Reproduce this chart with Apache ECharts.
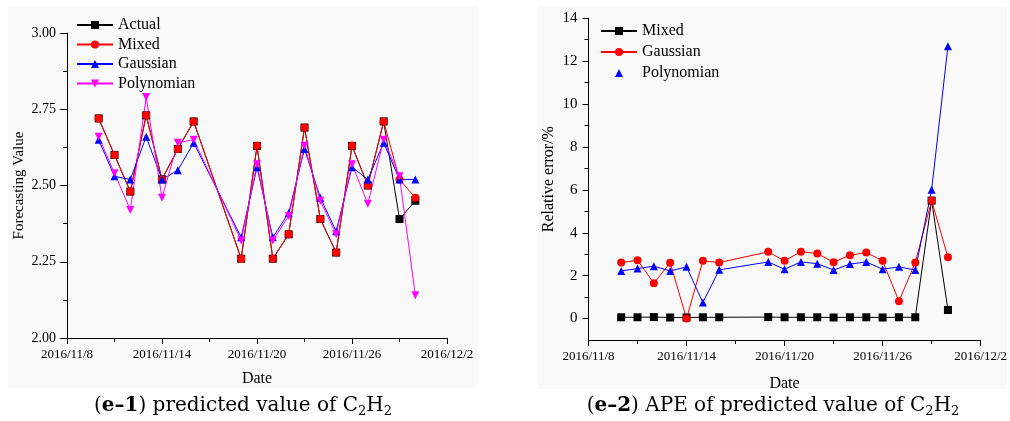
<!DOCTYPE html>
<html><head><meta charset="utf-8">
<script src="https://cdn.jsdelivr.net/npm/echarts@6/dist/echarts.min.js"></script>
<style>html,body{margin:0;padding:0;background:#fff}#c{width:1010px;height:421px}</style>
</head><body><div id="c"></div>
<script>
// ---------- data ----------
const dates = ['2016/11/10','2016/11/11','2016/11/12','2016/11/13','2016/11/14','2016/11/15','2016/11/16',
  '2016/11/19','2016/11/20','2016/11/21','2016/11/22','2016/11/23','2016/11/24','2016/11/25','2016/11/26',
  '2016/11/27','2016/11/28','2016/11/29','2016/11/30'];
const xTickDates = ['2016/11/8','2016/11/14','2016/11/20','2016/11/26','2016/12/2'];

const predActual     = [2.72,2.60,2.48,2.73,2.52,2.62,2.71,2.26,2.63,2.26,2.34,2.69,2.39,2.28,2.63,2.50,2.71,2.39,2.45];
const predMixed      = [2.72,2.60,2.48,2.73,2.52,2.62,2.71,2.26,2.63,2.26,2.34,2.69,2.39,2.28,2.63,2.50,2.71,2.52,2.46];
const predGaussian   = [2.65,2.53,2.52,2.66,2.52,2.55,2.64,2.33,2.56,2.33,2.41,2.62,2.46,2.35,2.56,2.52,2.64,2.52,2.52];
const predPolynomian = [2.66,2.54,2.42,2.79,2.46,2.64,2.65,2.32,2.57,2.32,2.40,2.63,2.45,2.34,2.57,2.44,2.65,2.53,2.14];

const apeMixed      = [0.06,0.06,0.07,0.05,0.05,0.06,0.06,0.07,0.06,0.06,0.06,0.05,0.06,0.06,0.05,0.06,0.06,5.50,0.40];
const apeGaussian   = [2.61,2.72,1.65,2.60,0.00,2.69,2.61,3.11,2.69,3.12,3.03,2.63,2.95,3.08,2.69,0.81,2.61,5.50,2.86];
const apePolynomian = [2.22,2.33,2.44,2.22,2.41,0.75,2.27,2.64,2.30,2.64,2.56,2.26,2.54,2.64,2.30,2.41,2.26,6.00,12.70];

const predYMin = 2.00, predYMax = 3.00, predYStep = 0.25;
const apeYMin = -1, apeYMax = 14;
const apeYTicks = [0,2,4,6,8,10,12,14];
const apeYMinorTicks = [1,3,5,7,9,11,13];

// ---------- helpers ----------
function dayNum(s){const p=s.split('/').map(Number);return Date.UTC(p[0],p[1]-1,p[2])/86400000;}
const d0 = dayNum(xTickDates[0]);
const xMax = dayNum(xTickDates[xTickDates.length-1]) - d0;
const xStep = dayNum(xTickDates[1]) - d0;
const xs = dates.map(s => dayNum(s) - d0);
function fmtDay(v){const d=new Date((d0+v)*86400000);return d.getUTCFullYear()+'/'+(d.getUTCMonth()+1)+'/'+d.getUTCDate();}
const pair = arr => arr.map((v,i)=>[xs[i],v]);

const FONT = 'Liberation Serif';
const BLACK = '#000';

function xAxisCfg(gi, nameGap){
  return {
    type:'value', gridIndex:gi, min:0, max:xMax, interval:xStep,
    name:'Date', nameLocation:'middle', nameGap:nameGap,
    nameTextStyle:{fontFamily:FONT, fontSize:16, color:BLACK},
    axisLine:{show:true, onZero:false, lineStyle:{color:BLACK, width:1}},
    axisTick:{show:true, length:6, lineStyle:{color:BLACK}},
    minorTick:{show:true, splitNumber:2, length:4, lineStyle:{color:BLACK}},
    splitLine:{show:false},
    axisLabel:{fontFamily:FONT, fontSize:13, color:BLACK, margin:10, formatter:v=>fmtDay(v), showMinLabel:true, showMaxLabel:true}
  };
}

function ser(name, data, color, symbol, xi, yi, rot){
  return {name, type:'line', xAxisIndex:xi, yAxisIndex:yi, data, symbol, symbolSize:8, symbolRotate:rot||0,
    lineStyle:{color, width:1}, itemStyle:{color}, emphasis:{disabled:true}, animation:false, z:2};
}

const capRich = {
  p:{fontFamily:'DejaVu Serif', fontSize:20, fill:'#000', lineHeight:24},
  b:{fontFamily:'DejaVu Serif', fontSize:20, fontWeight:'bold', fill:'#000', lineHeight:24},
  s:{fontFamily:'DejaVu Serif', fontSize:13, fill:'#000', lineHeight:18, verticalAlign:'bottom'}
};

const chart = echarts.init(document.getElementById('c'));
chart.setOption({
  backgroundColor:'#ffffff',
  animation:false,
  graphic:[
    {type:'rect', shape:{x:8,y:6,width:470,height:382}, style:{fill:'#f9f9f9'}, z:-10, silent:true},
    {type:'rect', shape:{x:538,y:6,width:469,height:383}, style:{fill:'#f9f9f9'}, z:-10, silent:true},
    {type:'text', x:243, y:406, silent:true, style:{
      text:'{p|(}{b|e–1}{p|) predicted value of C}{s|2}{p|H}{s|2}',
      align:'center', verticalAlign:'middle', rich:capRich}},
    {type:'text', x:773, y:406, silent:true, style:{
      text:'{p|(}{b|e–2}{p|) APE of predicted value of C}{s|2}{p|H}{s|2}',
      align:'center', verticalAlign:'middle', rich:capRich}}
  ],
  grid:[
    {left:67, top:33, width:380, height:305, containLabel:false},
    {left:588.5, top:18.3, width:392.5, height:321.7, containLabel:false}
  ],
  legend:[
    {orient:'vertical', left:76, top:17, padding:0, itemWidth:36, itemHeight:10, itemGap:3.5,
     textStyle:{fontFamily:FONT, fontSize:16, color:BLACK, lineHeight:16},
     data:['Actual','Mixed','Gaussian','Polynomian'].map(n=>({name:n})), selectedMode:false},
    {orient:'vertical', left:600, top:23, padding:0, itemWidth:36, itemHeight:10, itemGap:5,
     textStyle:{fontFamily:FONT, fontSize:16, color:BLACK, lineHeight:16},
     data:[{name:'Mixed '},{name:'Gaussian '},{name:'Polynomian ', lineStyle:{opacity:0, width:0}}], selectedMode:false,
     formatter:n=>n.trim()}
  ],
  xAxis:[xAxisCfg(0, 33), xAxisCfg(1, 36)],
  yAxis:[
    {type:'value', gridIndex:0, min:predYMin, max:predYMax, interval:predYStep,
     name:'Forecasting Value', nameLocation:'middle', nameGap:40,
     nameTextStyle:{fontFamily:FONT, fontSize:15, color:BLACK},
     axisLine:{show:true, onZero:false, lineStyle:{color:BLACK, width:1}},
     axisTick:{show:true, length:7, lineStyle:{color:BLACK}},
     minorTick:{show:true, splitNumber:2, length:4, lineStyle:{color:BLACK}},
     splitLine:{show:false},
     axisLabel:{fontFamily:FONT, fontSize:14, color:BLACK, margin:11, formatter:v=>v.toFixed(2)}},
    {type:'value', gridIndex:1, min:apeYMin, max:apeYMax, interval:1,
     name:'Relative error/%', nameLocation:'middle', nameGap:32,
     nameTextStyle:{fontFamily:FONT, fontSize:16, color:BLACK},
     axisLine:{show:true, onZero:false, lineStyle:{color:BLACK, width:1}},
     axisTick:{show:true, length:6, customValues:apeYTicks, lineStyle:{color:BLACK}},
     splitLine:{show:false},
     axisLabel:{fontFamily:FONT, fontSize:15, color:BLACK, margin:11, customValues:apeYTicks}},
    {type:'value', gridIndex:1, min:apeYMin, max:apeYMax, interval:1, position:'left',
     axisLine:{show:false, onZero:false},
     axisTick:{show:true, length:4, customValues:apeYMinorTicks, lineStyle:{color:BLACK}},
     splitLine:{show:false}, axisLabel:{show:false}}
  ],
  series:[
    ser('Actual', pair(predActual), '#000000', 'rect', 0, 0),
    ser('Mixed', pair(predMixed), '#ff0000', 'circle', 0, 0),
    ser('Gaussian', pair(predGaussian), '#0000ff', 'triangle', 0, 0),
    ser('Polynomian', pair(predPolynomian), '#ff00ff', 'triangle', 0, 0, 180),
    ser('Mixed ', pair(apeMixed), '#000000', 'rect', 1, 1),
    ser('Gaussian ', pair(apeGaussian), '#ff0000', 'circle', 1, 1),
    ser('Polynomian ', pair(apePolynomian), '#0000ff', 'triangle', 1, 1)
  ]
});
</script>
</body></html>
